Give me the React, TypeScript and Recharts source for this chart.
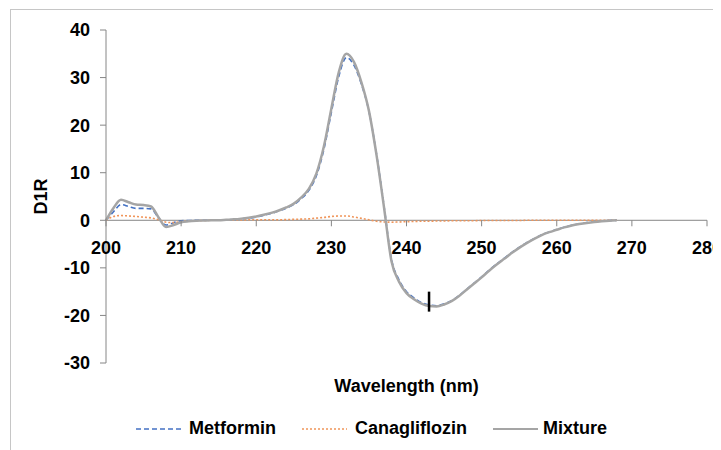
import React from 'react';
import { LineChart, Line, XAxis, YAxis, ReferenceLine, Legend } from 'recharts';

const wavelengths = [
  200, 201, 202, 203, 204, 205, 206, 207, 208, 209,
  210, 211, 212, 213, 214, 215, 216, 217, 218, 219,
  220, 221, 222, 223, 224, 225, 226, 227, 228, 229,
  230, 231, 232, 233, 234, 235, 236, 237, 238, 239,
  240, 241, 242, 243, 244, 245, 246, 247, 248, 249,
  250, 251, 252, 253, 254, 255, 256, 257, 258, 259,
  260, 261, 262, 263, 264, 265, 266, 267, 268,
];

const metformin = [
  0, 1.8, 3.3, 2.9, 2.5, 2.5, 2.4, 0.5, -1.0, -0.5,
  -0.1, -0.05, 0, 0, 0, 0, 0.1, 0.15, 0.3, 0.45,
  0.7, 1.05, 1.45, 1.95, 2.55, 3.3, 4.55, 6.3, 9.35, 14.9,
  22.7, 30.3, 34.2, 32.6, 28.6, 22.9, 14.0, 3.1, -8.2, -12.5,
  -15.0, -16.3, -17.3, -17.8, -17.95, -17.55, -16.9, -15.8, -14.5, -13.2,
  -11.9, -10.5, -9.2, -8.0, -6.8, -5.7, -4.7, -3.85, -3.05, -2.45,
  -1.95, -1.45, -1.05, -0.75, -0.5, -0.3, -0.15, -0.05, 0,
];

const canagliflozin = [
  0, 0.8, 1.0, 0.9, 0.8, 0.65, 0.5, 0.1, -0.4, -0.5,
  -0.3, -0.15, -0.1, -0.05, 0, 0, 0, 0.05, 0.05, 0.1,
  0.1, 0.1, 0.1, 0.1, 0.15, 0.2, 0.25, 0.3, 0.45, 0.6,
  0.8, 0.9, 0.9, 0.7, 0.4, 0.1, -0.2, -0.35, -0.4, -0.35,
  -0.3, -0.25, -0.2, -0.2, -0.15, -0.15, -0.1, -0.1, -0.1, -0.1,
  -0.05, -0.05, -0.05, -0.05, -0.05, -0.05, 0, 0, 0, 0,
  0, 0, 0, 0, 0, 0, 0, 0, 0,
];

const mixture = [
  0, 2.6, 4.3, 3.8, 3.3, 3.2, 2.9, 0.6, -1.4, -1.0,
  -0.4, -0.2, -0.1, -0.05, 0, 0, 0.1, 0.2, 0.35, 0.55,
  0.8, 1.15, 1.55, 2.05, 2.7, 3.5, 4.8, 6.6, 9.8, 15.5,
  23.5, 31.2, 35.0, 33.3, 29.0, 23.0, 13.8, 2.8, -8.6, -12.9,
  -15.3, -16.6, -17.5, -18.0, -18.1, -17.7, -17.0, -15.9, -14.6, -13.3,
  -12.0, -10.6, -9.3, -8.1, -6.9, -5.8, -4.8, -3.9, -3.1, -2.5,
  -2.0, -1.5, -1.1, -0.8, -0.55, -0.35, -0.2, -0.08, 0,
];

const xTicks = [200, 210, 220, 230, 240, 250, 260, 270, 280];
const yTicks = [-30, -20, -10, 0, 10, 20, 30, 40];
const markerSegment = [
  { x: 243, y: -15 },
  { x: 243, y: -19.2 },
];

const seriesInfo = [
  { key: 'met', name: 'Metformin', color: '#4472C4', dash: '5 3', width: 1.6 },
  { key: 'cana', name: 'Canagliflozin', color: '#F0955A', dash: '2 2', width: 1.6 },
  { key: 'mix', name: 'Mixture', color: '#A5A5A5', dash: undefined as string | undefined, width: 2.5 },
];

const data = wavelengths.map((w, i) => ({
  w,
  met: metformin[i],
  cana: canagliflozin[i],
  mix: mixture[i],
}));

const W = 713;
const H = 442;
const YMIN = -30;
const YMAX = 40;
const MARGIN = { top: 22, right: 14, left: 0, bottom: 57 };
const XAXIS_H = 30;
const PLOT_H = H - MARGIN.top - MARGIN.bottom - XAXIS_H;
const ZERO_Y = MARGIN.top + (PLOT_H * YMAX) / (YMAX - YMIN);
const FONT = '"Liberation Sans", Arial, Helvetica, sans-serif';
const AXIS_COLOR = '#868686';

const XTick = (props: any) => {
  const { x, payload } = props;
  return (
    <g>
      <line x1={x} x2={x} y1={ZERO_Y} y2={ZERO_Y + 6} stroke={AXIS_COLOR} strokeWidth={1} />
      <text
        x={x}
        y={ZERO_Y + 34}
        textAnchor="middle"
        fill="#000"
        fontSize={18}
        fontWeight={700}
        fontFamily={FONT}
      >
        {payload.value}
      </text>
    </g>
  );
};

const XLabel = (props: any) => {
  const vb = props.viewBox || {};
  const cx = (vb.x ?? 98) + (vb.width ?? 601) / 2;
  return (
    <text x={cx} y={384} textAnchor="middle" fill="#000" fontSize={18} fontWeight={700} fontFamily={FONT}>
      Wavelength (nm)
    </text>
  );
};

const YLabel = (props: any) => {
  const vb = props.viewBox || {};
  const cy = (vb.y ?? 22) + (vb.height ?? 333) / 2;
  const x = 38.5;
  return (
    <text
      x={x}
      y={cy}
      transform={`rotate(-90, ${x}, ${cy})`}
      textAnchor="middle"
      fill="#000"
      fontSize={18}
      fontWeight={700}
      fontFamily={FONT}
    >
      D1R
    </text>
  );
};

const LegendContent = () => (
  <div
    style={{
      display: 'flex',
      alignItems: 'center',
      fontFamily: FONT,
      fontWeight: 700,
      fontSize: 18,
      color: '#000',
      whiteSpace: 'nowrap',
    }}
  >
    {seriesInfo.map((s, i) => (
      <div key={s.key} style={{ display: 'flex', alignItems: 'center', marginRight: i < 2 ? 26 : 0 }}>
        <svg width={45} height={10} style={{ marginRight: s.key === 'mix' ? 5 : 8 }}>
          <line
            x1={0}
            x2={45}
            y1={5}
            y2={5}
            stroke={s.color}
            strokeWidth={s.key === 'mix' ? 2 : 1.6}
            strokeDasharray={s.dash}
          />
        </svg>
        <span>{s.name}</span>
      </div>
    ))}
  </div>
);

export default function App() {
  return (
    <div style={{ position: 'relative', width: W, height: H, overflow: 'hidden', background: '#fff' }}>
      <div
        style={{
          position: 'absolute',
          left: 2,
          top: 1,
          width: 900,
          height: 900,
          border: '1px solid #c6c6c6',
          boxSizing: 'border-box',
        }}
      />
      <div style={{ position: 'absolute', left: 0, top: 0 }}>
        <LineChart width={W} height={H} data={data} margin={MARGIN}>
          <XAxis
            dataKey="w"
            type="number"
            domain={[200, 280]}
            ticks={xTicks}
            axisLine={false}
            tickLine={false}
            height={XAXIS_H}
            tick={<XTick />}
            interval={0}
            label={XLabel}
          />
          <YAxis
            type="number"
            domain={[YMIN, YMAX]}
            ticks={yTicks}
            width={98}
            interval={0}
            axisLine={{ stroke: AXIS_COLOR, strokeWidth: 1 }}
            tickLine={{ stroke: AXIS_COLOR, strokeWidth: 1 }}
            tickSize={6}
            tickMargin={10}
            tick={{ fill: '#000', fontSize: 18, fontWeight: 700, fontFamily: FONT }}
            label={YLabel}
          />
          <ReferenceLine y={0} stroke={AXIS_COLOR} strokeWidth={1} />
          {seriesInfo.map((s) => (
            <Line
              key={s.key}
              type="monotone"
              dataKey={s.key}
              name={s.name}
              stroke={s.color}
              strokeWidth={s.width}
              strokeDasharray={s.dash}
              dot={false}
              activeDot={false}
              isAnimationActive={false}
            />
          ))}
          <ReferenceLine segment={markerSegment} stroke="#000" strokeWidth={2.5} />
          <Legend
            layout="vertical"
            align="center"
            verticalAlign="middle"
            content={<LegendContent />}
            wrapperStyle={{ position: 'absolute', left: 128, top: 410, width: 520, height: 24 }}
          />
        </LineChart>
      </div>
    </div>
  );
}
